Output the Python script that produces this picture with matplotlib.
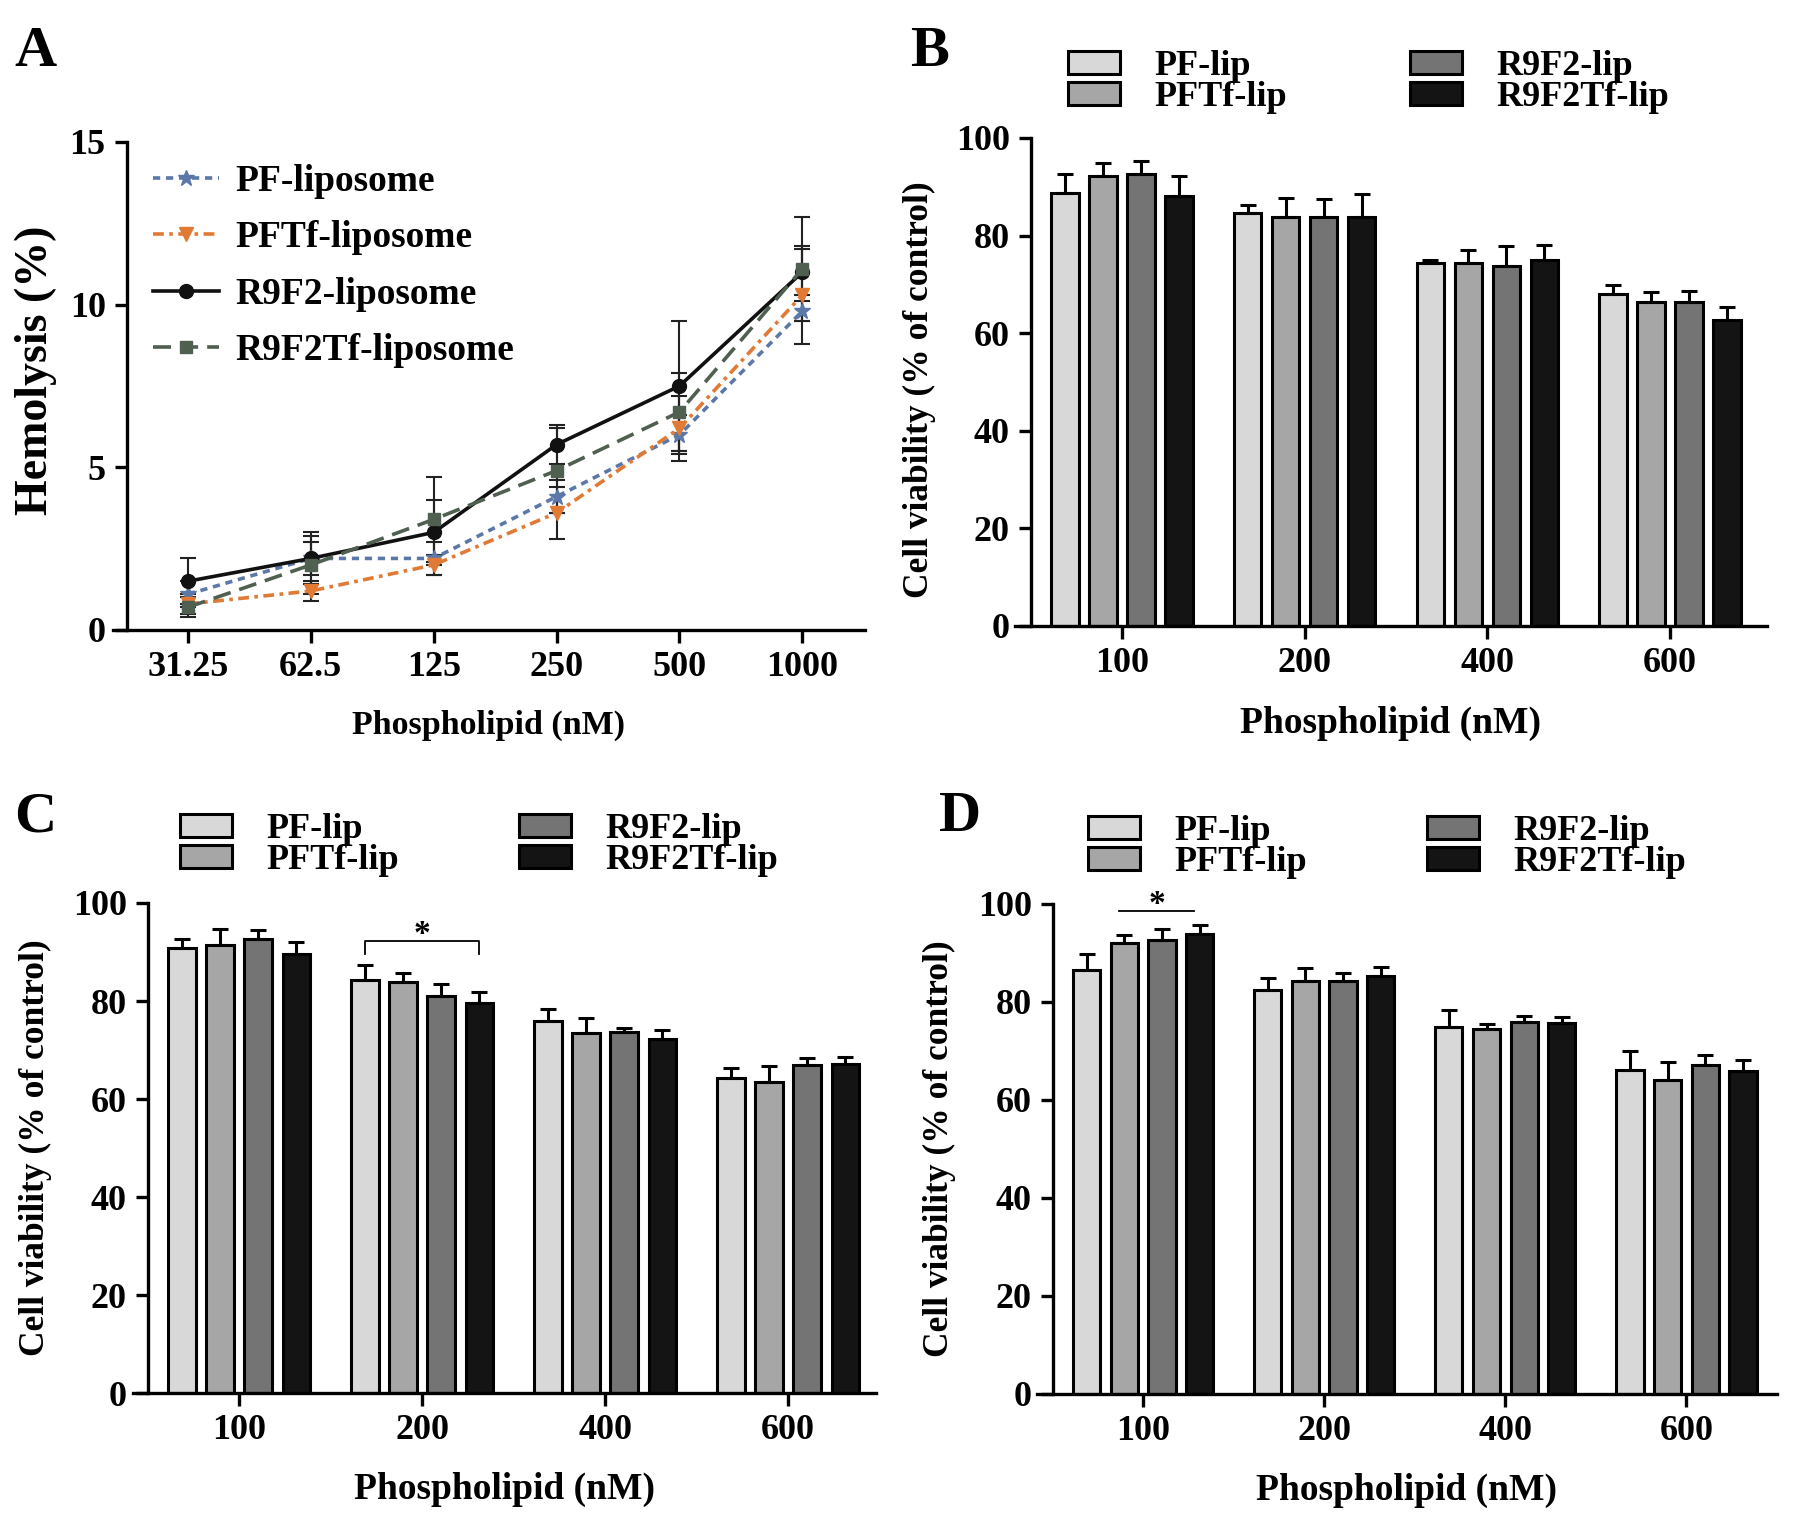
import numpy as np
import matplotlib.pyplot as plt
from matplotlib.patches import Patch

# ---- data: panel A (hemolysis) ----
conc_a = ["31.25", "62.5", "125", "250", "500", "1000"]
pf_hemo = [1.1, 2.2, 2.2, 4.1, 6.0, 9.8]
pf_hemo_err = [0.4, 0.5, 0.5, 0.5, 0.6, 0.3]
pftf_hemo = [0.8, 1.2, 2.0, 3.6, 6.2, 10.3]
pftf_hemo_err = [0.3, 0.3, 0.3, 0.8, 1.0, 1.5]
r9f2_hemo = [1.5, 2.2, 3.0, 5.7, 7.5, 11.0]
r9f2_hemo_err = [0.7, 0.8, 1.0, 0.6, 2.0, 0.7]
r9f2tf_hemo = [0.7, 2.0, 3.4, 4.9, 6.7, 11.1]
r9f2tf_hemo_err = [0.3, 0.9, 1.3, 1.3, 1.2, 1.6]
hemo_labels = ["PF-liposome", "PFTf-liposome", "R9F2-liposome", "R9F2Tf-liposome"]

# ---- data: panels B, C, D (cell viability) ----
conc_bar = ["100", "200", "400", "600"]
bar_labels = ["PF-lip", "PFTf-lip", "R9F2-lip", "R9F2Tf-lip"]

b_pf = [88.7, 84.6, 74.4, 68.0]
b_pf_err = [4.0, 1.7, 0.7, 1.9]
b_pftf = [92.2, 83.9, 74.4, 66.4]
b_pftf_err = [2.6, 3.9, 2.7, 2.1]
b_r9f2 = [92.7, 83.9, 73.8, 66.4]
b_r9f2_err = [2.5, 3.6, 4.0, 2.3]
b_r9f2tf = [88.2, 83.9, 75.0, 62.7]
b_r9f2tf_err = [4.0, 4.6, 3.1, 2.7]

c_pf = [90.9, 84.3, 76.0, 64.3]
c_pf_err = [1.7, 3.0, 2.4, 2.0]
c_pftf = [91.4, 83.9, 73.4, 63.4]
c_pftf_err = [3.2, 1.9, 3.1, 3.3]
c_r9f2 = [92.7, 81.0, 73.6, 66.9]
c_r9f2_err = [1.7, 2.4, 0.8, 1.4]
c_r9f2tf = [89.6, 79.6, 72.3, 67.1]
c_r9f2tf_err = [2.5, 2.2, 1.7, 1.4]

d_pf = [86.6, 82.4, 74.9, 66.1]
d_pf_err = [3.2, 2.6, 3.4, 3.8]
d_pftf = [92.0, 84.2, 74.4, 64.0]
d_pftf_err = [1.7, 2.7, 1.2, 3.7]
d_r9f2 = [92.6, 84.2, 75.9, 67.1]
d_r9f2_err = [2.3, 1.7, 1.3, 2.0]
d_r9f2tf = [93.9, 85.3, 75.7, 66.0]
d_r9f2tf_err = [1.9, 1.8, 1.3, 2.2]

bar_colors = ["#d8d8d8", "#a6a6a6", "#747474", "#141414"]

plt.rcParams['font.family'] = ['Liberation Serif', 'DejaVu Serif']
plt.rcParams['font.weight'] = 'bold'
plt.rcParams['axes.labelweight'] = 'bold'

W, H = 1800, 1528
fig = plt.figure(figsize=(W / 100, H / 100), dpi=100)


def px_axes(left, right, top, bottom):
    return fig.add_axes([left / W, 1 - bottom / H, (right - left) / W, (bottom - top) / H])


def style(ax):
    for s in ['top', 'right']:
        ax.spines[s].set_visible(False)
    ax.spines['left'].set_position(('data', -0.5))
    ax.spines['left'].set_linewidth(2.4)
    ax.spines['bottom'].set_linewidth(2.4)
    ax.tick_params(direction='out', length=9, width=2.4, labelsize=26, pad=6)


# ---- panel A ----
axA = px_axes(113, 865, 142, 630)
xa = np.arange(len(conc_a))
hemo_series = [pf_hemo, pftf_hemo, r9f2_hemo, r9f2tf_hemo]
hemo_errs = [pf_hemo_err, pftf_hemo_err, r9f2_hemo_err, r9f2tf_hemo_err]
hemo_colors = ["#5b78a8", "#e07a35", "#111111", "#4f5f50"]
hemo_markers = ["*", "v", "o", "s"]
hemo_ls = [(0, (2.0, 1.6)), (0, (3, 1.5, 1, 1.5)), '-', (0, (5, 2.5))]
hemo_ms = [12, 10, 10, 9]
for vals, errs, col, mk, ls, ms, lab in zip(hemo_series, hemo_errs, hemo_colors, hemo_markers,
                                           hemo_ls, hemo_ms, hemo_labels):
    axA.errorbar(xa, vals, yerr=errs, fmt='none', ecolor='#222222', elinewidth=1.5,
                 capsize=6, capthick=1.5, zorder=2)
    axA.plot(xa, vals, color=col, linestyle=ls, linewidth=2.6, marker=mk, markersize=ms,
             label=lab, zorder=3)
axA.set_xlim(-0.61, 5.51)
axA.set_ylim(0, 15)
axA.set_yticks([0, 5, 10, 15])
axA.set_xticks(xa)
axA.set_xticklabels(conc_a)
style(axA)
axA.set_ylabel("Hemolysis (%)", fontsize=33)
axA.yaxis.set_label_coords(-0.074, 0.533)
axA.set_xlabel("Phospholipid (nM)", fontsize=24.5)
axA.xaxis.set_label_coords(0.5, -0.164)
axA.legend(loc='upper left', bbox_to_anchor=(153 / W, 1 - 164 / H), bbox_transform=fig.transFigure,
           frameon=False, fontsize=27, handlelength=1.75, handletextpad=0.46, labelspacing=0.57,
           borderpad=0, borderaxespad=0)


# ---- panels B, C, D ----
def bar_panel(ax, series, errs, xlim, legend_x, legend_y):
    x = np.arange(len(conc_bar))
    pitch = 0.208
    offsets = (np.arange(4) - 1.5) * pitch
    for vals, err, col, off in zip(series, errs, bar_colors, offsets):
        ax.bar(x + off, vals, width=0.15, color=col, edgecolor='k', linewidth=2.2, zorder=2)
        ax.errorbar(x + off, vals, yerr=[np.zeros(len(vals)), err], fmt='none', ecolor='k',
                    elinewidth=2.2, capsize=6, capthick=2.2, zorder=3)
    ax.set_xlim(*xlim)
    ax.set_ylim(0, 100)
    ax.set_yticks(np.arange(0, 101, 20))
    ax.set_xticks(x)
    ax.set_xticklabels(conc_bar)
    style(ax)
    ax.set_ylabel("Cell viability (% of control)", fontsize=25.5)
    ax.set_xlabel("Phospholipid (nM)", fontsize=27)
    handles = [Patch(facecolor=c, edgecolor='k', linewidth=2.2) for c in bar_colors]
    legs = []
    for col in range(2):
        leg = ax.legend(handles[2 * col:2 * col + 2], bar_labels[2 * col:2 * col + 2],
                        loc='center left', bbox_to_anchor=(legend_x[col] / W, 1 - legend_y / H),
                        bbox_transform=fig.transFigure, frameon=False, fontsize=26,
                        handlelength=1.45, handleheight=0.6, handletextpad=0.95,
                        labelspacing=-0.05, borderpad=0, borderaxespad=0)
        legs.append(leg)
    ax.add_artist(legs[0])
    return offsets


axB = px_axes(1015, 1767, 138, 626)
bar_panel(axB, [b_pf, b_pftf, b_r9f2, b_r9f2tf], [b_pf_err, b_pftf_err, b_r9f2_err, b_r9f2tf_err],
          (-0.586, 3.53), (1068, 1410), 82)
axB.yaxis.set_label_coords(-0.105, 0.484)
axB.xaxis.set_label_coords(0.5, -0.164)

axC = px_axes(133, 876, 903, 1393)
offC = bar_panel(axC, [c_pf, c_pftf, c_r9f2, c_r9f2tf], [c_pf_err, c_pftf_err, c_r9f2_err, c_r9f2tf_err],
                 (-0.58, 3.48), (180, 519), 845)
axC.yaxis.set_label_coords(-0.109, 0.5)
axC.xaxis.set_label_coords(0.5, -0.161)
# significance bracket at 200 nM
axC.plot([1 + offC[0], 1 + offC[0], 1 + offC[3], 1 + offC[3]], [89.5, 92.2, 92.2, 89.5],
         color='k', linewidth=1.3, zorder=4)
axC.text(1 + (offC[0] + offC[3]) / 2, 93.6, "*", ha='center', va='center', fontsize=24)

axD = px_axes(1037, 1777, 904, 1394)
offD = bar_panel(axD, [d_pf, d_pftf, d_r9f2, d_r9f2tf], [d_pf_err, d_pftf_err, d_r9f2_err, d_r9f2tf_err],
                 (-0.586, 3.50), (1088, 1427), 847)
axD.yaxis.set_label_coords(-0.109, 0.5)
axD.xaxis.set_label_coords(0.5, -0.161)
axD.plot([offD[1] - 0.03, offD[3] - 0.03], [98.5, 98.5], color='k', linewidth=1.3, zorder=4,
         clip_on=False)
axD.text((offD[1] + offD[3]) / 2 - 0.03, 99.9, "*", ha='center', va='center', fontsize=24)

# panel letters
for letter, (lx, ly) in zip("ABCD", [(14, 52), (910, 52), (14, 817), (939, 817)]):
    fig.text(lx / W, 1 - ly / H, letter, fontsize=42, fontweight='bold', ha='left', va='center')

fig.savefig("out.png", dpi=100, facecolor='white')
